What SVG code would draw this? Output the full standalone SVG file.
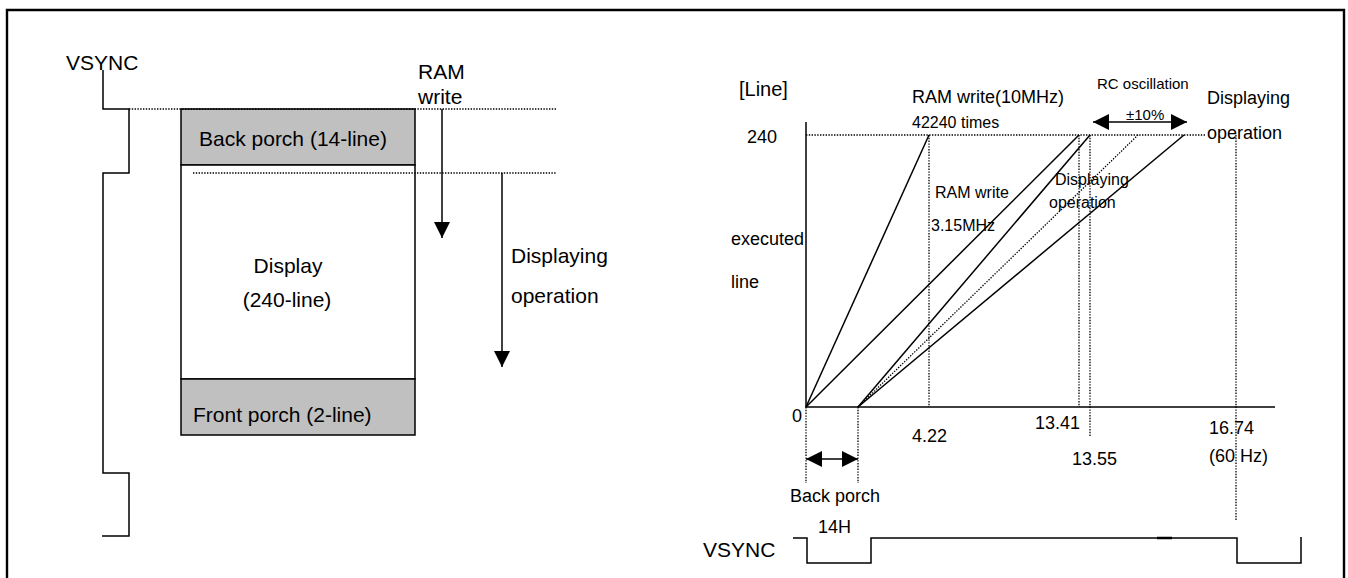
<svg xmlns="http://www.w3.org/2000/svg" width="1348" height="578" viewBox="0 0 1348 578">
<style>
text{font-family:"Liberation Sans",Arial,sans-serif;fill:#000}
.l{font-size:21px}.m{font-size:18px}.s{font-size:16px}.xs{font-size:15px}
.ln{fill:none;stroke:#000;stroke-width:1.5}
.dot{fill:none;stroke:#000;stroke-width:1.3;stroke-dasharray:1.4 1.4}
.box{stroke:#000;stroke-width:1.5}
</style>
<defs>
<marker id="ah" markerUnits="userSpaceOnUse" markerWidth="16" markerHeight="16" viewBox="0 0 16 16" refX="16" refY="8" orient="auto-start-reverse">
<path d="M0,0 L16,8 L0,16 Z" fill="#000"/>
</marker>
</defs>
<rect width="1348" height="578" fill="#fff"/>
<path d="M7,580 V10 H1344 V580" fill="none" stroke="#000" stroke-width="2.4"/>

<g id="left-vsync">
<text class="l" x="66" y="70">VSYNC</text>
<path class="ln" d="M103,70 V109 H129 V173 H103 V473 H129 V536 H102"/>
</g>
<g id="back-porch">
<rect class="box" x="181" y="109" width="234" height="56" fill="#c0c0c0"/>
<text class="l" x="199" y="146">Back porch (14-line)</text>
</g>
<g id="display">
<rect class="box" x="181" y="165" width="234" height="214" fill="#fff"/>
<text class="l" x="288" y="273" text-anchor="middle">Display</text>
<text class="l" x="287" y="307" text-anchor="middle">(240-line)</text>
</g>
<g id="front-porch">
<rect class="box" x="181" y="379" width="234" height="56" fill="#c0c0c0"/>
<text class="l" x="193" y="422">Front porch (2-line)</text>
</g>
<g id="ram-write-label">
<text class="l" x="418" y="79">RAM</text>
<text class="l" x="418" y="104">write</text>
</g>
<g id="displaying-label-left">
<text class="l" x="511" y="263">Displaying</text>
<text class="l" x="511" y="303">operation</text>
</g>

<g id="chart-axes">
<path class="ln" d="M806,122 V407 H1275"/>
<text style="font-size:20px" x="739" y="96">[Line]</text>
<text class="m" x="747" y="143">240</text>
<text class="m" x="731" y="245">executed</text>
<text class="m" x="731" y="288">line</text>
<text class="m" x="792" y="422">0</text>
<text class="m" x="912" y="442">4.22</text>
<text class="m" x="1035" y="429">13.41</text>
<text class="m" x="1072" y="465">13.55</text>
<text class="m" x="1209" y="434">16.74</text>
<text class="m" x="1209" y="462">(60 Hz)</text>
</g>
<g id="chart-labels">
<text class="m" x="912" y="103">RAM write(10MHz)</text>
<text class="s" x="912" y="128">42240 times</text>
<text class="s" x="935" y="198">RAM write</text>
<text class="s" x="931" y="231">3.15MHz</text>
<text class="s" x="1055" y="185">Displaying</text>
<text class="s" x="1049" y="208">operation</text>
<text class="xs" x="1097" y="89">RC oscillation</text>
<text class="xs" x="1126" y="120">±10%</text>
<text class="m" x="1207" y="104">Displaying</text>
<text class="m" x="1207" y="139">operation</text>
<text class="m" x="790" y="502">Back porch</text>
<text class="m" x="818" y="533">14H</text>
</g>
<g id="bottom-vsync">
<text class="l" x="703" y="557">VSYNC</text>
<path class="ln" d="M793,538 H807 V563 H871 V538 H1237 V563 H1301 V537"/>
<path d="M1157,538 H1172" stroke="#000" stroke-width="2.5"/>
</g>

<g id="connectors">
<path class="dot" d="M129,109 H556"/>
<path class="dot" d="M193,173 H556"/>
<path class="ln" d="M442,109 V238" marker-end="url(#ah)"/>
<path class="ln" d="M502,173 V367" marker-end="url(#ah)"/>
<path class="dot" d="M806,135 H1206"/>
<path class="dot" d="M929,135 V407"/>
<path class="dot" d="M1079,135 V407"/>
<path class="dot" d="M1090,135 V437"/>
<path class="dot" d="M1236,135 V521"/>
<path class="dot" d="M806,407 V483"/>
<path class="dot" d="M858,407 V483"/>
<path class="ln" d="M806,407 L929,135"/>
<path class="ln" d="M806,407 L1079,135"/>
<path class="ln" d="M858,407 L1090,135"/>
<path class="dot" d="M858,407 L1138,135"/>
<path class="ln" d="M858,407 L1184,135"/>
<path class="ln" d="M1093,122 H1187" marker-start="url(#ah)" marker-end="url(#ah)"/>
<path class="ln" d="M806,459 H858" marker-start="url(#ah)" marker-end="url(#ah)"/>
</g>
</svg>
